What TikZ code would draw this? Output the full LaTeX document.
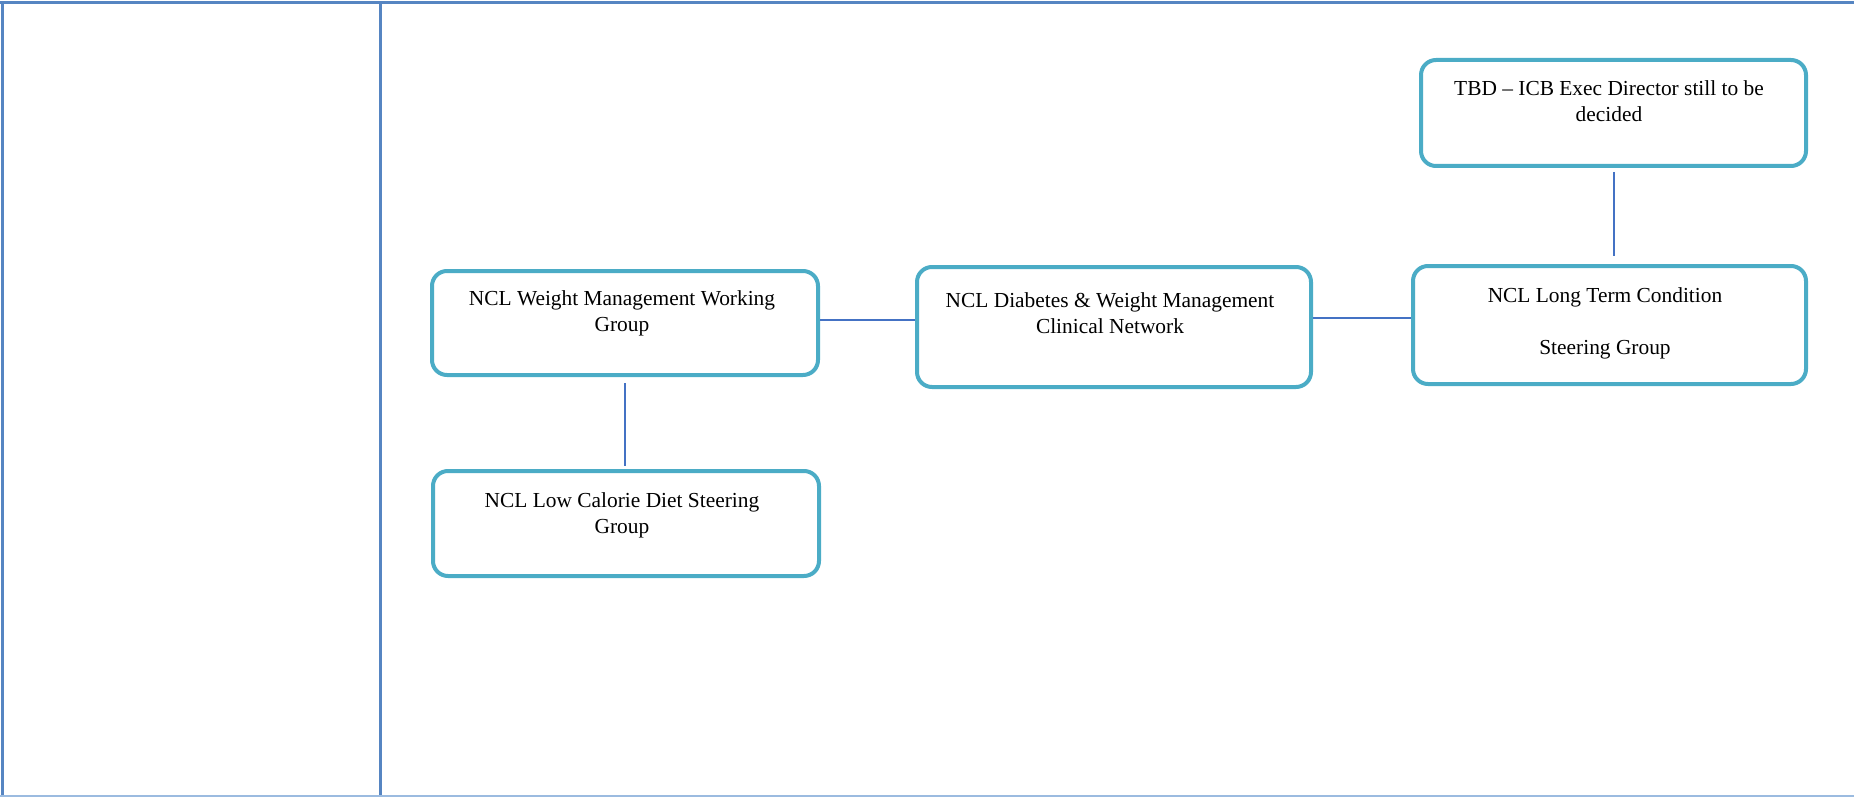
\documentclass[tikz,border=0pt]{standalone}
\usepackage{fontspec}
\setmainfont{Liberation Serif}
\definecolor{boxc}{HTML}{4BACC6}
\definecolor{connc}{HTML}{4472C4}
\definecolor{framec}{HTML}{5685C2}
\definecolor{framelight}{HTML}{9BBBE0}
\begin{document}
\begin{tikzpicture}[x=0.5pt,y=-0.5pt,
  box/.style={draw=boxc, line width=2pt, rounded corners=7.5pt, fill=white, inner sep=0pt, anchor=north west},
  lbl/.style={font=\fontsize{10.7}{13}\selectfont, align=center, inner sep=0pt, anchor=north},
  conn/.style={draw=connc, line width=1pt},
  frameline/.style={draw=framec, line width=1.5pt},
  framebottom/.style={draw=framelight, line width=1.2pt}]
\useasboundingbox (0,0) rectangle (1854,797);
% table frame
\draw[frameline] (0,3) -- (1854,3);
\draw[frameline] (2,3) -- (2,797);
\draw[frameline] (380,3) -- (380,797);
\draw[framebottom] (0,796) -- (1854,796);
% boxes
\node[box, minimum width=192.5pt, minimum height=53pt] (tbd) at (1419,58) {};
\node[box, minimum width=193pt, minimum height=52pt] (wg) at (430,269) {};
\node[box, minimum width=197pt, minimum height=60pt] (net) at (915,265) {};
\node[box, minimum width=196.5pt, minimum height=59pt] (ltc) at (1411,264) {};
\node[box, minimum width=193pt, minimum height=52.5pt] (low) at (431,469) {};
% texts
\node[lbl] (tbdt) at (1609,75) {\rule{0pt}{10pt}TBD -- ICB Exec Director still to be\\decided};
\node[lbl] (wgt) at (622,285) {\rule{0pt}{10pt}NCL Weight Management Working\\Group};
\node[lbl] (nett) at (1110,287) {\rule{0pt}{10pt}NCL Diabetes \& Weight Management\\Clinical Network};
\node[lbl] (ltct) at (1605,282) {\rule{0pt}{10pt}NCL Long Term Condition\\[13pt]Steering Group};
\node[lbl] (lowt) at (622,487) {\rule{0pt}{10pt}NCL Low Calorie Diet Steering\\Group};
% connectors
\draw[conn] ([yshift=1.5pt]wg.east) -- ([yshift=1.5pt]wg.east -| net.west);
\draw[conn] ([yshift=4.5pt]net.east) -- ([yshift=4.5pt]net.east -| ltc.west);
\draw[conn, shorten <=2pt, shorten >=4pt] (tbd.south) -- (tbd.south |- ltc.north);
\draw[conn, shorten <=3pt, shorten >=1.5pt] (wg.south) -- (wg.south |- low.north);
\end{tikzpicture}
\end{document}
